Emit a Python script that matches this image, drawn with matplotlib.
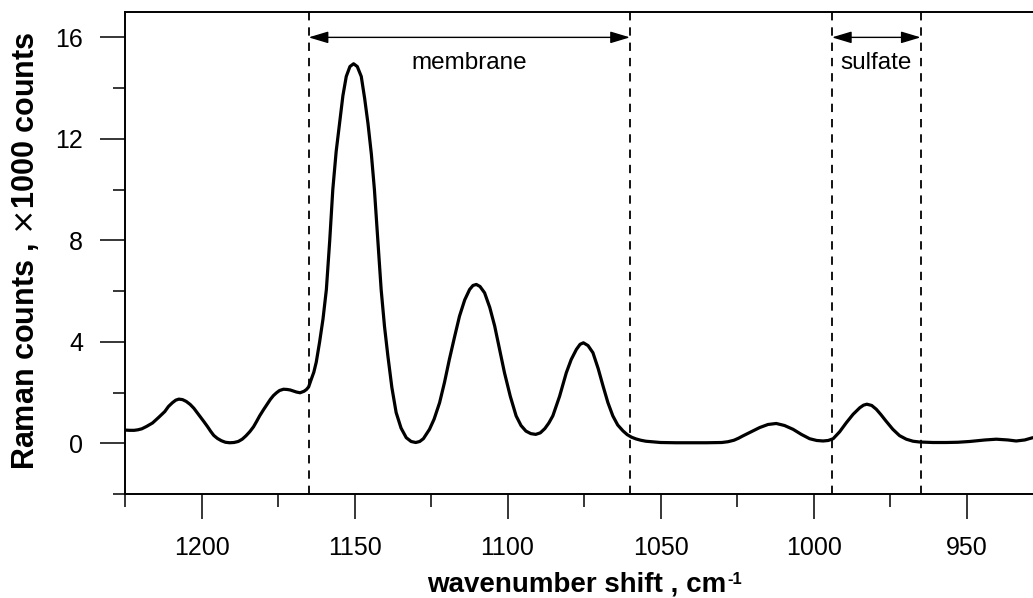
import matplotlib
matplotlib.use("Agg")
from matplotlib import pyplot as plt
from matplotlib.ticker import MultipleLocator
import numpy as np

plt.rcParams['font.family'] = ['Liberation Sans', 'DejaVu Sans']
plt.rcParams['lines.scale_dashes'] = False

# Raman spectrum, wavenumber (cm-1) vs counts (x1000)
wavenumber = [1225, 1223.5, 1222, 1220.8, 1219.5, 1218, 1216, 1214, 1212, 1210.8,
              1209.5, 1208.4, 1207.4, 1206.2, 1205, 1203.7, 1202.5, 1201.5, 1200.5, 1199.2,
              1198, 1197, 1196, 1194.8, 1193.5, 1192.2, 1190.8, 1189.4, 1188, 1186.7,
              1185.5, 1184.2, 1183, 1182, 1181, 1179.7, 1178.5, 1177.5, 1176.5, 1175.5,
              1174.5, 1173.2, 1172, 1171, 1170, 1169, 1167.8, 1166.5, 1165.7, 1165,
              1164.2, 1163.3, 1162.5, 1161.4, 1160.3, 1159.2, 1158.1, 1157.1, 1156, 1154.9,
              1153.8, 1152.7, 1151.5, 1150.3, 1149.1, 1147.8, 1146.7, 1145.6, 1144.5, 1143.5,
              1142.4, 1141.3, 1140.2, 1139.1, 1137.8, 1136.4, 1134.8, 1133.1, 1131.5, 1130,
              1128.7, 1127.5, 1125.5, 1124, 1122.2, 1120.6, 1119, 1117.3, 1115.7, 1114,
              1112.4, 1111.3, 1110.2, 1109, 1107.5, 1105.8, 1104.2, 1102.6, 1101, 1099.1,
              1097.2, 1095.6, 1094, 1092.4, 1090.8, 1089.3, 1087.8, 1086.5, 1085.2, 1083,
              1080.8, 1079.2, 1077.5, 1076.3, 1075.2, 1073.7, 1072.1, 1070.4, 1068.8, 1067.2,
              1065.6, 1064, 1062.3, 1060.9, 1059.5, 1058, 1056.5, 1054.8, 1053, 1051.5,
              1050, 1045, 1040, 1035, 1030, 1028, 1026, 1024.5, 1023.1, 1020.3,
              1017.6, 1014.9, 1012.2, 1009.5, 1006.7, 1004, 1001.3, 999, 996.9, 995.2,
              993.6, 991.5, 989.3, 987.1, 984.9, 983.7, 982.6, 981, 979.5, 978,
              976.5, 974.1, 971.9, 969.7, 967.5, 965.4, 961, 956.6, 952.8, 949,
              944, 940.3, 936.5, 933.8, 931, 928.4]
counts = [0.52, 0.51, 0.51, 0.53, 0.57, 0.66, 0.80, 1.02, 1.25, 1.45,
          1.60, 1.70, 1.74, 1.72, 1.65, 1.53, 1.38, 1.22, 1.06, 0.85,
          0.65, 0.47, 0.31, 0.19, 0.10, 0.04, 0.02, 0.03, 0.07, 0.16,
          0.29, 0.46, 0.65, 0.86, 1.08, 1.33, 1.55, 1.73, 1.88, 1.99,
          2.08, 2.13, 2.12, 2.10, 2.06, 2.02, 1.99, 2.05, 2.12, 2.22,
          2.50, 2.80, 3.20, 4.00, 4.90, 6.06, 8.00, 10.0, 11.5, 12.6,
          13.7, 14.46, 14.85, 14.96, 14.85, 14.46, 13.6, 12.6, 11.4, 10.0,
          8.00, 6.06, 4.60, 3.44, 2.20, 1.21, 0.60, 0.22, 0.07, 0.03,
          0.07, 0.18, 0.55, 0.95, 1.60, 2.40, 3.31, 4.20, 5.01, 5.65,
          6.06, 6.22, 6.26, 6.18, 5.93, 5.35, 4.62, 3.70, 2.78, 1.85,
          1.08, 0.70, 0.48, 0.38, 0.35, 0.41, 0.58, 0.80, 1.08, 1.85,
          2.78, 3.30, 3.70, 3.90, 3.96, 3.85, 3.57, 2.95, 2.26, 1.60,
          1.08, 0.72, 0.49, 0.34, 0.24, 0.17, 0.12, 0.08, 0.06, 0.04,
          0.03, 0.02, 0.02, 0.02, 0.03, 0.06, 0.12, 0.20, 0.29, 0.46,
          0.62, 0.74, 0.78, 0.70, 0.55, 0.35, 0.18, 0.11, 0.09, 0.11,
          0.18, 0.45, 0.81, 1.14, 1.40, 1.50, 1.54, 1.49, 1.34, 1.13,
          0.90, 0.55, 0.30, 0.16, 0.08, 0.05, 0.03, 0.03, 0.04, 0.07,
          0.13, 0.16, 0.13, 0.09, 0.13, 0.22]

# region borders and labels
borders = [1165, 1060, 994, 965]
regions = [("membrane", 1165, 1060), ("sulfate", 994, 965)]

W, H = 1033, 598
fig = plt.figure(figsize=(W / 100, H / 100), dpi=100)
ax = fig.add_axes([125 / W, 1 - 494 / H, 1 - 125 / W, (494 - 12) / H])

ax.plot(wavenumber, counts, color="black", lw=2.3,
        solid_joinstyle="round", solid_capstyle="round")

for b in borders:
    ax.axvline(b, color="black", lw=1.3, dashes=(6, 5))

for name, x0, x1 in regions:
    ax.annotate("", xy=(x1, 16), xytext=(x0, 16),
                arrowprops=dict(arrowstyle="<|-|>,head_length=0.6,head_width=0.18",
                                mutation_scale=20, lw=1, color="black",
                                shrinkA=0, shrinkB=0))
    ax.text((x0 + x1) / 2, 15.0, name, ha="center", va="center", fontsize=17.5)

ax.set_xlim(1225, 928.3)
ax.set_ylim(-2, 17)
ax.xaxis.set_major_locator(MultipleLocator(50))
ax.xaxis.set_minor_locator(MultipleLocator(25))
ax.yaxis.set_major_locator(MultipleLocator(4))
ax.yaxis.set_minor_locator(MultipleLocator(2))
ax.tick_params(which="major", length=18, width=1.1, direction="out", labelsize=18, pad=12)
ax.tick_params(which="minor", length=9, width=1.1, direction="out")
ax.spines["right"].set_visible(False)
for s in ["left", "top", "bottom"]:
    ax.spines[s].set_linewidth(1.4)

# axis titles
fig.text(26 / W, 1 - 251 / H, r"Raman counts , $\times$1000 counts", rotation=90,
         ha="center", va="center", fontsize=22, fontweight="bold")
xl = fig.text(577 / W, 1 - 591 / H, "wavenumber shift , cm", ha="center",
              va="baseline", fontsize=20, fontweight="bold")
fig.canvas.draw()
bb = xl.get_window_extent()
fig.text((bb.x1 + 1) / W, (bb.y1 - 1) / H, "-1", ha="left", va="top",
         fontsize=12, fontweight="bold")

fig.savefig("out.png", dpi=100)
